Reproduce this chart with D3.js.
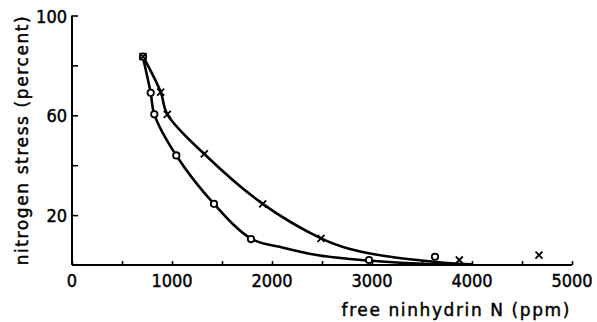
<!DOCTYPE html>
<html>
<head>
<meta charset="utf-8">
<script src="https://cdn.jsdelivr.net/npm/d3@7"></script>
<style>
  body { margin: 0; background: #fff; }
  text { fill: #000; stroke: #000; stroke-width: 0.45; }
  .lab { font-family: "DejaVu Sans Condensed", "DejaVu Sans", sans-serif; font-stretch: condensed; }
  .title { font-family: "DejaVu Sans", sans-serif; letter-spacing: 1.6px; }
</style>
</head>
<body>
<script>
// measured points, circles (o) and crosses (x)
var circleN = [710, 787, 823, 1043, 1420, 1790, 2970, 3630];
var circleStress = [83.5, 69, 60.4, 43.9, 24.5, 10.4, 2, 3.3];
var crossN = [710, 887, 953, 1323, 1907, 2490, 3873, 4670];
var crossStress = [83.5, 69.3, 60.4, 44.5, 24.5, 10.7, 2, 4];

// hand-drawn fitted curves
var circleCurveN = [705, 787, 823, 1043, 1420, 1790, 2113, 2447, 2780, 3100, 3450, 3750];
var circleCurveStress = [84, 69, 60.4, 43.9, 24.5, 10.6, 6.9, 4.0, 2.4, 1.4, 0.6, 0.2];
var crossCurveN = [705, 887, 953, 1323, 1907, 2490, 2780, 3113, 3450, 3750, 4000];
var crossCurveStress = [84, 69.3, 60.4, 44.5, 24.5, 10.7, 6.4, 3.7, 2.0, 0.8, 0.3];

var xTicks = [0, 1000, 2000, 3000, 4000, 5000];
var xMinor = [500, 1500, 2500, 3500, 4500];
var yTicks = [20, 60, 100];
var yMinor = [40, 80];

window.onload = draw();

function draw(){
    var width = 597,
        height = 322;

    var svg = d3.select("body")
        .append("svg")
        .attr("width", width)
        .attr("height", height);

    var x = d3.scaleLinear().domain([0, 5000]).range([72, 572]);
    var y = d3.scaleLinear().domain([0, 100]).range([265, 15.5]);

    // x axis with inward ticks
    svg.append("g")
        .attr("transform", "translate(0," + y(0) + ")")
        .call(d3.axisTop(x).tickValues(xTicks.concat(xMinor)).tickSize(4).tickFormat(""));
    // y axis with inward ticks
    svg.append("g")
        .attr("transform", "translate(" + x(0) + ",0)")
        .call(d3.axisRight(y).tickValues(yTicks.concat(yMinor)).tickSize(6).tickFormat(""));

    svg.selectAll(".domain").remove();
    svg.selectAll(".tick line").attr("stroke", "#000").attr("stroke-width", 1.6);

    svg.append("line")
        .attr("x1", x(0)).attr("x2", x(5000))
        .attr("y1", y(0)).attr("y2", y(0))
        .attr("stroke", "#000").attr("stroke-width", 2);
    svg.append("line")
        .attr("x1", x(0)).attr("x2", x(0))
        .attr("y1", y(100)).attr("y2", y(0))
        .attr("stroke", "#000").attr("stroke-width", 2);

    // tick labels
    svg.selectAll(".xlab")
        .data(xTicks)
        .enter()
        .append("text")
        .attr("class", "lab")
        .attr("x", function(d){ return x(d); })
        .attr("y", 287)
        .attr("text-anchor", "middle")
        .attr("font-size", 18)
        .text(function(d){ return d; });

    svg.selectAll(".ylab")
        .data(yTicks)
        .enter()
        .append("text")
        .attr("class", "lab")
        .attr("x", 67)
        .attr("y", function(d){ return y(d) + 7; })
        .attr("text-anchor", "end")
        .attr("font-size", 18)
        .text(function(d){ return d; });

    // axis titles
    svg.append("text")
        .attr("class", "title")
        .attr("x", 571)
        .attr("y", 316)
        .attr("text-anchor", "end")
        .attr("font-size", 17)
        .text("free ninhydrin N (ppm)");

    svg.append("text")
        .attr("class", "title")
        .attr("transform", "translate(28,140) rotate(-90)")
        .attr("text-anchor", "middle")
        .attr("font-size", 17)
        .text("nitrogen stress (percent)");

    // curves
    var line = d3.line()
        .x(function(d){ return x(d[0]); })
        .y(function(d){ return y(d[1]); })
        .curve(d3.curveCatmullRom.alpha(0.5));

    svg.append("path")
        .datum(d3.zip(circleCurveN, circleCurveStress))
        .attr("d", line)
        .attr("fill", "none")
        .attr("stroke", "#000")
        .attr("stroke-width", 2.6);

    svg.append("path")
        .datum(d3.zip(crossCurveN, crossCurveStress))
        .attr("d", line)
        .attr("fill", "none")
        .attr("stroke", "#000")
        .attr("stroke-width", 2.6);

    // circle markers
    svg.selectAll(".circ")
        .data(d3.zip(circleN, circleStress))
        .enter()
        .append("circle")
        .attr("class", "circ")
        .attr("cx", function(d){ return x(d[0]); })
        .attr("cy", function(d){ return y(d[1]); })
        .attr("r", 3.2)
        .attr("fill", "#fff")
        .attr("stroke", "#000")
        .attr("stroke-width", 1.8);

    // cross markers
    var s = 3.5;
    svg.selectAll(".cross")
        .data(d3.zip(crossN, crossStress))
        .enter()
        .append("path")
        .attr("class", "cross")
        .attr("d", function(d){
            var cx = x(d[0]), cy = y(d[1]);
            return "M" + (cx - s) + "," + (cy - s) + "L" + (cx + s) + "," + (cy + s) +
                   "M" + (cx - s) + "," + (cy + s) + "L" + (cx + s) + "," + (cy - s);
        })
        .attr("stroke", "#000")
        .attr("stroke-width", 1.8);
}
</script>
</body>
</html>
